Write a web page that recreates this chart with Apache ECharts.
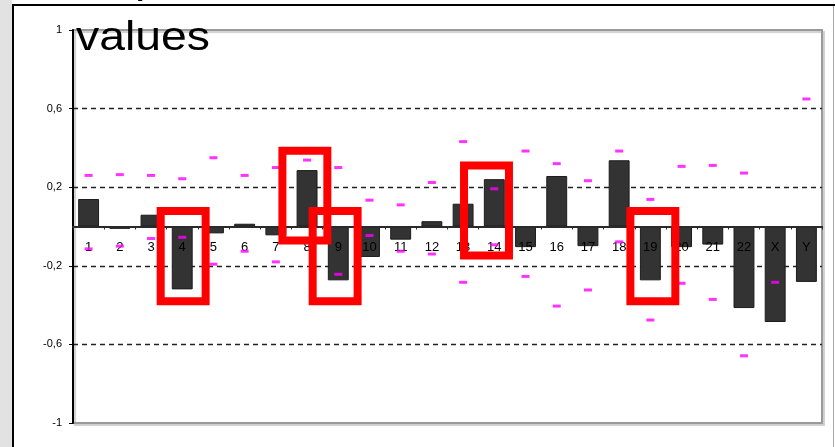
<!DOCTYPE html>
<html>
<head>
<meta charset="utf-8">
<script src="https://cdn.jsdelivr.net/npm/echarts@6/dist/echarts.min.js"></script>
<style>
  html, body { margin: 0; padding: 0; background: #fff; }
  #chart { width: 835px; height: 447px; }
</style>
</head>
<body>
<div id="chart"></div>
<script>
// Chromosomes along the x axis
const chromosomes = ['1','2','3','4','5','6','7','8','9','10','11','12','13','14','15','16','17','18','19','20','21','22','X','Y'];

// Mean value per chromosome (bars)
const meanValues = [0.14, -0.012, 0.06, -0.32, -0.035, 0.014, -0.045, 0.287, -0.274, -0.155, -0.067, 0.027,
                    0.116, 0.241, -0.105, 0.257, -0.10, 0.337, -0.274, -0.105, -0.092, -0.415, -0.486, -0.282];

// Upper and lower reference values per chromosome (magenta dashes)
const upperValues = [0.26, 0.264, 0.26, 0.243, 0.35, 0.26, 0.30, 0.338, 0.30, 0.134, 0.11, 0.224,
                     0.432, 0.192, 0.384, 0.32, 0.233, 0.384, 0.138, 0.306, 0.311, 0.272, null, 0.649];
const lowerValues = [-0.114, -0.10, -0.061, -0.055, -0.192, -0.126, -0.18, -0.066, -0.243, -0.046, -0.126, -0.14,
                     -0.284, -0.093, -0.254, -0.405, -0.323, -0.078, -0.476, -0.289, -0.371, -0.658, -0.284, null];

// Highlighted chromosomes: [category index, upper value, lower value]
const highlighted = [
  [3, 0.079, -0.38],
  [7, 0.385, -0.071],
  [8, 0.079, -0.38],
  [13, 0.311, -0.148],
  [18, 0.079, -0.38]
];

// Y axis range and step of the tick labels
const yTicks = { min: -1, max: 1, step: 0.4 };

// Small horizontal nudges of the highlight frames, in band widths
const frameNudge = [0.03, -0.07, -0.1, -0.25, 0.08];

// Plot area
const GRID = { left: 73, right: 13, top: 30, bottom: 24 };
const plotHeight = 447 - GRID.top - GRID.bottom;
// the category axis sits on the zero line of the value range
const zeroShift = -plotHeight * (0 - yTicks.min) / (yTicks.max - yTicks.min);

const chart = echarts.init(document.getElementById('chart'), null, { renderer: 'canvas' });

const fmt = v => {
  const r = Math.round(v * 10) / 10;
  return String(r).replace('.', ',');
};

const TITLE_FONT = '41px "Liberation Sans", Arial, sans-serif';

chart.setOption({
  animation: false,
  backgroundColor: '#ffffff',
  grid: {
    left: GRID.left, right: GRID.right, top: GRID.top, bottom: GRID.bottom,
    show: true,
    backgroundColor: '#ffffff',
    borderColor: '#9a9a9a',
    borderWidth: 2,
    shadowColor: '#cfcfcf',
    shadowBlur: 1,
    shadowOffsetX: 2,
    shadowOffsetY: 2
  },
  xAxis: {
    type: 'category',
    data: chromosomes,
    z: 3,
    offset: zeroShift,
    axisLine: { onZero: false, lineStyle: { color: '#2a2a2a', width: 2 } },
    axisTick: { show: true, length: 3, lineStyle: { color: '#2a2a2a', width: 1 } },
    axisLabel: {
      interval: 0, margin: 14, fontSize: 13, color: '#000',
      fontFamily: 'Liberation Sans, Arial, sans-serif'
    },
    splitLine: { show: false }
  },
  yAxis: {
    type: 'value',
    min: yTicks.min, max: yTicks.max, interval: yTicks.step,
    axisLine: { show: true, lineStyle: { color: '#000', width: 2 } },
    axisTick: { show: true, length: 4, lineStyle: { color: '#000', width: 1 } },
    axisLabel: {
      formatter: fmt, fontSize: 11, color: '#000', margin: 11,
      fontFamily: 'Liberation Sans, Arial, sans-serif'
    },
    splitLine: {
      show: true, showMinLine: false, showMaxLine: false,
      lineStyle: { color: '#222', width: 1.3, type: [5, 4] }
    }
  },
  graphic: [
    { type: 'rect', shape: { x: 0, y: 0, width: 12, height: 447 }, style: { fill: '#e2e2e2' }, z: 1 },
    { type: 'line', shape: { x1: 13, y1: 4, x2: 13, y2: 447 }, style: { stroke: '#000', lineWidth: 2 }, z: 1 },
    { type: 'line', shape: { x1: 12, y1: 5, x2: 835, y2: 5 }, style: { stroke: '#000', lineWidth: 2 }, z: 1 },
    { type: 'line', shape: { x1: 833.5, y1: 6, x2: 833.5, y2: 447 }, style: { stroke: '#a8a8a8', lineWidth: 1 }, z: 1 },
    {
      type: 'text', z: 100, x: 81, y: -39, scaleX: 1.13,
      style: { text: 'Expression', font: TITLE_FONT, fill: '#000', verticalAlign: 'top' }
    },
    {
      type: 'text', z: 100, x: 76, y: 18, scaleX: 1.13,
      style: { text: 'values', font: TITLE_FONT, fill: '#000', verticalAlign: 'top' }
    }
  ],
  series: [
    {
      name: 'mean',
      type: 'bar',
      data: meanValues,
      barWidth: '67%',
      z: 2,
      itemStyle: { color: '#333333', borderColor: '#1c1c1c', borderWidth: 1 }
    },
    {
      name: 'upper',
      type: 'scatter',
      data: upperValues,
      symbol: 'rect',
      symbolSize: [8, 3],
      z: 4,
      itemStyle: { color: '#ff00ff' }
    },
    {
      name: 'lower',
      type: 'scatter',
      data: lowerValues,
      symbol: 'rect',
      symbolSize: [8, 3],
      z: 4,
      itemStyle: { color: '#ff00ff' }
    },
    {
      name: 'frames',
      type: 'custom',
      data: highlighted,
      z: 6,
      renderItem: function (params, api) {
        const i = api.value(0);
        const top = api.coord([i, api.value(1)]);
        const bot = api.coord([i, api.value(2)]);
        const band = api.size([1, 0])[0];
        const w = band * 1.44;
        const cx = top[0] + frameNudge[params.dataIndex] * band;
        return {
          type: 'rect',
          shape: { x: cx - w / 2, y: top[1], width: w, height: bot[1] - top[1] },
          style: { fill: 'none', stroke: '#ff0000', lineWidth: 8 }
        };
      }
    }
  ]
});
</script>
</body>
</html>
